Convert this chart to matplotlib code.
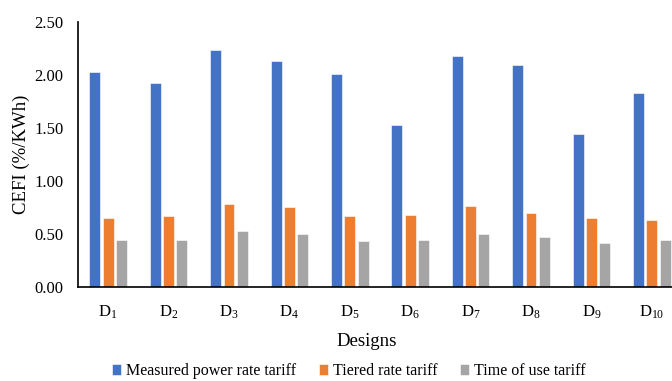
import numpy as np
import matplotlib
matplotlib.use('Agg')
import matplotlib.pyplot as plt

plt.rcParams['font.family'] = ['Liberation Serif', 'DejaVu Serif']
plt.rcParams['mathtext.fontset'] = 'custom'
plt.rcParams['mathtext.rm'] = 'Liberation Serif'

# ── Data ─────────────────────────────────────────────
designs = [f'$\\mathregular{{D_{{{i}}}}}$' for i in range(1, 11)]
measured = [2.03, 1.93, 2.24, 2.13, 2.01, 1.53, 2.18, 2.10, 1.44, 1.83]
tiered = [0.65, 0.67, 0.78, 0.75, 0.67, 0.68, 0.76, 0.70, 0.65, 0.63]
time_of_use = [0.44, 0.44, 0.53, 0.50, 0.43, 0.44, 0.50, 0.47, 0.41, 0.44]

series = [
    ('Measured power rate tariff', measured, '#4472C4'),
    ('Tiered rate tariff', tiered, '#ED7D31'),
    ('Time of use tariff', time_of_use, '#A5A5A5'),
]

fig = plt.figure(figsize=(6.72, 3.81), dpi=100)
ax = fig.add_axes([0.116, 0.2475, 0.899, 0.694])

x = np.arange(len(designs))
step, width = 0.22, 0.18
for k, (label, vals, color) in enumerate(series):
    ax.bar(x + (k - 1) * step, vals, width, color=color, label=label,
           edgecolor='white', linewidth=0.4)

ax.set_xlim(-0.5, 9.5)
ax.set_ylim(0, 2.5)
yt = np.arange(0, 2.51, 0.5)
ax.set_yticks(yt)
ax.set_yticklabels([f'{v:.2f}' for v in yt])
ax.set_xticks(x)
ax.set_xticklabels(designs)
ax.tick_params(axis='both', length=0, labelsize=12)
ax.tick_params(axis='y', pad=10.5)
ax.tick_params(axis='x', pad=12)

for s in ('top', 'right'):
    ax.spines[s].set_visible(False)
ax.spines['left'].set_linewidth(1.2)
ax.spines['bottom'].set_linewidth(1.2)

ax.set_ylabel('CEFI (%/KWh)', fontsize=13.5, labelpad=3)
ax.set_xlabel('Designs', fontsize=13.5, labelpad=9)
ax.xaxis.label.set_x(0.478)

fig.legend(loc='center', bbox_to_anchor=(0.519, 0.026), ncol=3, frameon=False,
           fontsize=11.5, handlelength=0.6, handleheight=0.6, handletextpad=0.3,
           columnspacing=1.4, borderpad=0.1)

fig.savefig('out.png', dpi=100)
